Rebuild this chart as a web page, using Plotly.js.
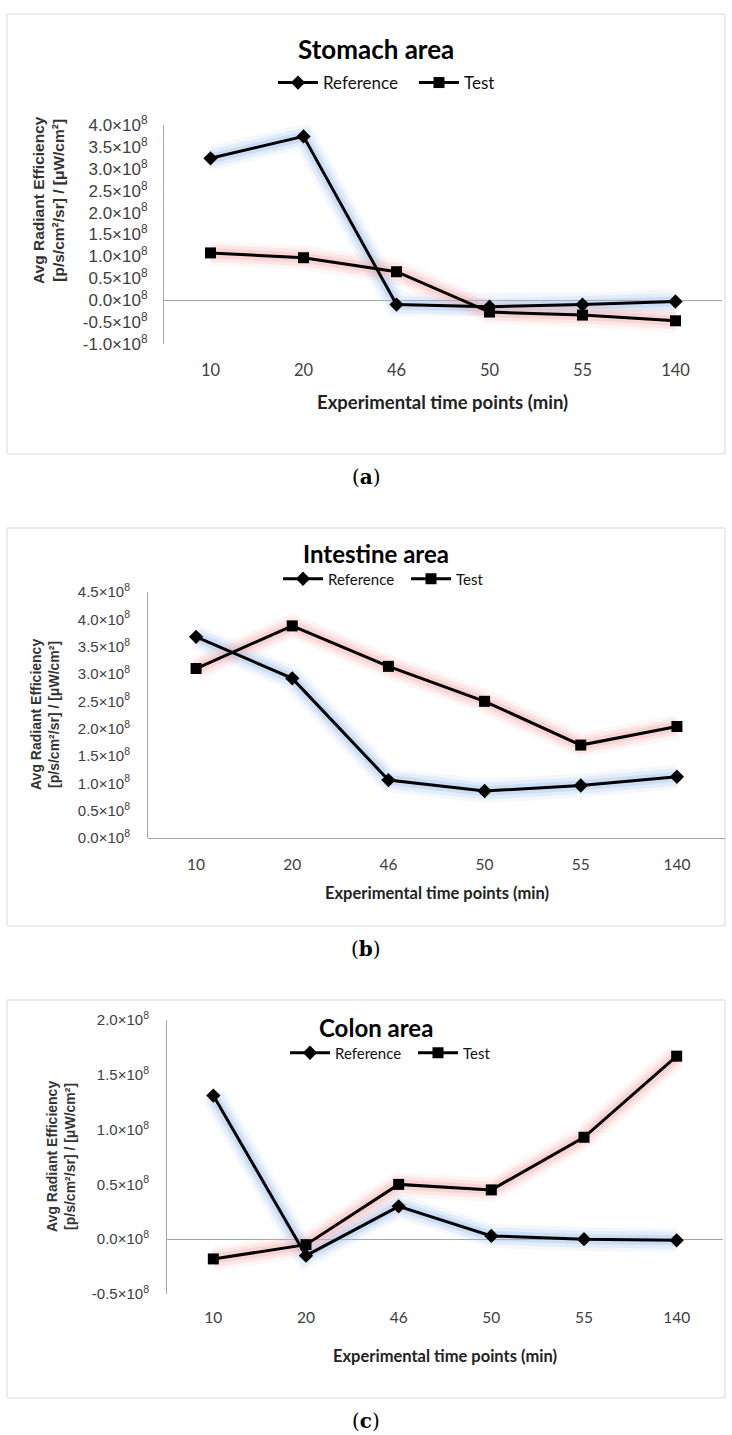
<!DOCTYPE html>
<html><head><meta charset="utf-8">
<script src="https://cdn.plot.ly/plotly-3.0.1.min.js"></script>
<style>html,body{margin:0;padding:0;background:#fff}</style>
</head><body>
<div id="chart" style="width:732px;height:1435px"></div>
<script>
// ---- data (values in p/s/cm²/sr per µW/cm²) ----
const categories = ['10', '20', '46', '50', '55', '140'];
const seriesNames = ['Reference', 'Test'];

const stomachRef  = [3.24e8, 3.74e8, -0.10e8, -0.15e8, -0.10e8, -0.03e8];
const stomachTest = [1.08e8, 0.97e8, 0.65e8, -0.27e8, -0.34e8, -0.47e8];

const intestineRef  = [3.68e8, 2.92e8, 1.06e8, 0.86e8, 0.96e8, 1.12e8];
const intestineTest = [3.10e8, 3.88e8, 3.14e8, 2.50e8, 1.70e8, 2.04e8];

const colonRef  = [1.31e8, -0.15e8, 0.30e8, 0.03e8, 0.00e8, -0.01e8];
const colonTest = [-0.18e8, -0.05e8, 0.50e8, 0.45e8, 0.93e8, 1.67e8];

const stomachTickVals = [-1e8, -0.5e8, 0, 0.5e8, 1e8, 1.5e8, 2e8, 2.5e8, 3e8, 3.5e8, 4e8];
const stomachTickText = ['-1.0×10<sup>8</sup>', '-0.5×10<sup>8</sup>', '0.0×10<sup>8</sup>', '0.5×10<sup>8</sup>', '1.0×10<sup>8</sup>', '1.5×10<sup>8</sup>', '2.0×10<sup>8</sup>', '2.5×10<sup>8</sup>', '3.0×10<sup>8</sup>', '3.5×10<sup>8</sup>', '4.0×10<sup>8</sup>'];

const intestineTickVals = [0, 0.5e8, 1e8, 1.5e8, 2e8, 2.5e8, 3e8, 3.5e8, 4e8, 4.5e8];
const intestineTickText = ['0.0×10<sup>8</sup>', '0.5×10<sup>8</sup>', '1.0×10<sup>8</sup>', '1.5×10<sup>8</sup>', '2.0×10<sup>8</sup>', '2.5×10<sup>8</sup>', '3.0×10<sup>8</sup>', '3.5×10<sup>8</sup>', '4.0×10<sup>8</sup>', '4.5×10<sup>8</sup>'];

const colonTickVals = [-0.5e8, 0, 0.5e8, 1e8, 1.5e8, 2e8];
const colonTickText = ['-0.5×10<sup>8</sup>', '0.0×10<sup>8</sup>', '0.5×10<sup>8</sup>', '1.0×10<sup>8</sup>', '1.5×10<sup>8</sup>', '2.0×10<sup>8</sup>'];

const panelTitles = ['Stomach area', 'Intestine area', 'Colon area'];
const panelLetters = ['a', 'b', 'c'];
const xTitle = 'Experimental time points (min)';
const yTitle = 'Avg Radiant Efficiency<br>[p/s/cm²/sr] / [μW/cm²]';

// ---- layout geometry (pixels) ----
const W = 732, H = 1435;
const px = v => v / W, py = v => 1 - v / H;

const panels = [
  {ref: stomachRef, test: stomachTest, tv: stomachTickVals, tt: stomachTickText, range: [-1e8, 4e8],
   x0: 164, x1: 722, yt: 125, yb: 344, frame: [7, 725, 14, 454], title: 49, tsize: 26,
   leg: [273, 83], lsize: 17, lentry: 86, xlab: 16.5, xstand: 14, ylab: 17, ystand: 12,
   xt: 402, xtsize: 18.5, ytx: 49, yty: 200, ytsize: 15.5, letter: 477},
  {ref: intestineRef, test: intestineTest, tv: intestineTickVals, tt: intestineTickText, range: [0, 4.5e8],
   x0: 148, x1: 725, yt: 592, yb: 838, frame: [7, 725, 528, 926], title: 553, tsize: 24,
   leg: [278, 579], lsize: 15, lentry: 73, xlab: 15.5, xstand: 15, ylab: 15, ystand: 14,
   xt: 893, xtsize: 16.5, ytx: 45, yty: 715, ytsize: 14, letter: 949},
  {ref: colonRef, test: colonTest, tv: colonTickVals, tt: colonTickText, range: [-0.5e8, 2e8],
   x0: 167, x1: 723, yt: 1020, yb: 1294, frame: [7, 725, 1000, 1398], title: 1027, tsize: 24,
   leg: [285, 1053], lsize: 15, lentry: 73, xlab: 15.5, xstand: 12, ylab: 15, ystand: 14,
   xt: 1356, xtsize: 16.5, ytx: 61, yty: 1157, ytsize: 14, letter: 1421}
];

const glowLayers = [
  {w: 24, a: 0.10}, {w: 17, a: 0.18}, {w: 10, a: 0.3}
];
const glowRef = '150,190,235';
const glowTest = '245,165,165';

const traces = [];
const layout = {
  width: W, height: H, margin: {l: 0, r: 0, t: 0, b: 0},
  paper_bgcolor: '#fff', plot_bgcolor: '#fff', showlegend: true,
  shapes: [], annotations: []
};

panels.forEach((p, i) => {
  const sfx = i === 0 ? '' : String(i + 1);
  const xa = 'x' + sfx, ya = 'y' + sfx, lg = 'legend' + sfx;
  [[p.ref, glowRef], [p.test, glowTest]].forEach(([vals, col]) => {
    glowLayers.forEach(g => {
      traces.push({x: categories, y: vals, xaxis: xa, yaxis: ya, mode: 'lines',
        line: {color: 'rgba(' + col + ',' + g.a + ')', width: g.w},
        showlegend: false, hoverinfo: 'skip'});
    });
  });
  traces.push({x: categories, y: p.ref, xaxis: xa, yaxis: ya, name: seriesNames[0], legend: lg,
    mode: 'lines+markers', line: {color: '#000', width: 3},
    marker: {symbol: 'diamond', size: 11, color: '#000'}});
  traces.push({x: categories, y: p.test, xaxis: xa, yaxis: ya, name: seriesNames[1], legend: lg,
    mode: 'lines+markers', line: {color: '#000', width: 3},
    marker: {symbol: 'square', size: 11, color: '#000'}});

  layout['xaxis' + sfx] = {
    domain: [px(p.x0), px(p.x1)], anchor: ya, type: 'category', range: [-0.5, 5.5],
    showline: false, zeroline: false, showgrid: false, ticks: '', ticklabelstandoff: p.xstand,
    tickfont: {family: 'Lato, Carlito, sans-serif', size: p.xlab, color: '#404040'}, fixedrange: true
  };
  layout['yaxis' + sfx] = {
    domain: [py(p.yb), py(p.yt)], anchor: xa, range: p.range, tickmode: 'array',
    tickvals: p.tv, ticktext: p.tt, showline: true, linecolor: '#a6a6a6', linewidth: 1,
    zeroline: true, zerolinecolor: '#a6a6a6', zerolinewidth: 1, showgrid: false,
    ticks: '', ticklabelstandoff: p.ystand,
    tickfont: {family: 'Liberation Sans, Arial, sans-serif', size: p.ylab, color: '#404040'}, fixedrange: true
  };
  layout[lg] = {
    x: px(p.leg[0]), y: py(p.leg[1]), xanchor: 'left', yanchor: 'middle', orientation: 'h',
    font: {family: 'Lato, Carlito, sans-serif', size: p.lsize, color: '#111'},
    bgcolor: 'rgba(0,0,0,0)', borderwidth: 0, itemwidth: 40,
    entrywidth: p.lentry, entrywidthmode: 'pixels'
  };
  layout.shapes.push({type: 'rect', xref: 'paper', yref: 'paper',
    x0: px(p.frame[0]), x1: px(p.frame[1]), y0: py(p.frame[3]), y1: py(p.frame[2]),
    line: {color: '#d9d9d9', width: 1}, fillcolor: 'rgba(0,0,0,0)', layer: 'below'});
  layout.annotations.push({xref: 'paper', yref: 'paper', x: px(376), y: py(p.title),
    xanchor: 'center', yanchor: 'middle', showarrow: false, text: '<b>' + panelTitles[i] + '</b>',
    font: {family: 'Lato, Carlito, sans-serif', size: p.tsize, color: '#000'}});
  layout.annotations.push({xref: 'paper', yref: 'paper', x: px((p.x0 + p.x1) / 2), y: py(p.xt),
    xanchor: 'center', yanchor: 'middle', showarrow: false, text: '<b>' + xTitle + '</b>',
    font: {family: 'Lato, Carlito, sans-serif', size: p.xtsize, color: '#222'}});
  layout.annotations.push({xref: 'paper', yref: 'paper', x: px(p.ytx), y: py(p.yty),
    xanchor: 'center', yanchor: 'middle', showarrow: false, textangle: -90, text: '<b>' + yTitle + '</b>',
    font: {family: 'Liberation Sans, Arial, sans-serif', size: p.ytsize, color: '#333'}});
  layout.annotations.push({xref: 'paper', yref: 'paper', x: px(366), y: py(p.letter),
    xanchor: 'center', yanchor: 'middle', showarrow: false, text: '(<b>' + panelLetters[i] + '</b>)',
    font: {family: 'DejaVu Serif, Liberation Serif, serif', size: 20, color: '#000'}});
});

Plotly.newPlot('chart', traces, layout, {staticPlot: true, displayModeBar: false});
</script>
</body></html>
